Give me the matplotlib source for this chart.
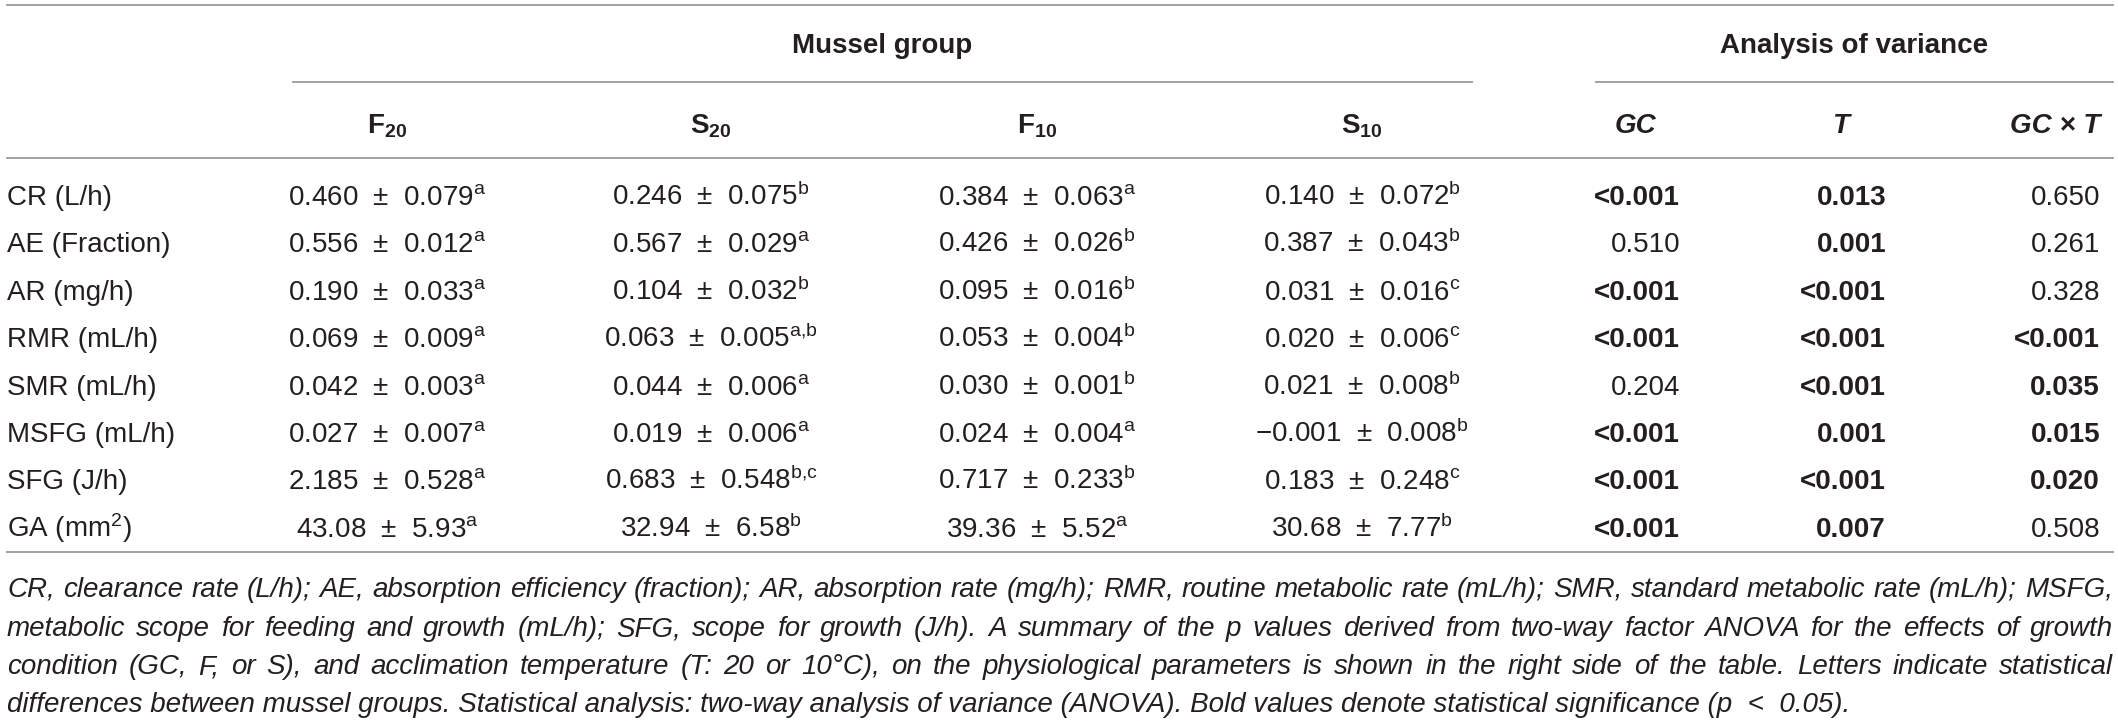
import matplotlib
matplotlib.use("Agg")
import matplotlib.pyplot as plt

plt.rcParams["font.family"] = ["Liberation Sans", "DejaVu Sans"]
plt.rcParams["mathtext.fontset"] = "custom"
plt.rcParams["mathtext.rm"] = "Liberation Sans"
plt.rcParams["mathtext.bf"] = "Liberation Sans:bold"
plt.rcParams["mathtext.it"] = "Liberation Sans:italic"

# table data
params = ["CR (L/h)", "AE (Fraction)", "AR (mg/h)", "RMR (mL/h)", "SMR (mL/h)",
          "MSFG (mL/h)", "SFG (J/h)", "GA (mm$^{2}$)"]
groups = ["F", "S", "F", "S"]
temps = ["20", "20", "10", "10"]

f20_mean = ["0.460", "0.556", "0.190", "0.069", "0.042", "0.027", "2.185", "43.08"]
f20_sd = ["0.079", "0.012", "0.033", "0.009", "0.003", "0.007", "0.528", "5.93"]
f20_sig = ["a", "a", "a", "a", "a", "a", "a", "a"]

s20_mean = ["0.246", "0.567", "0.104", "0.063", "0.044", "0.019", "0.683", "32.94"]
s20_sd = ["0.075", "0.029", "0.032", "0.005", "0.006", "0.006", "0.548", "6.58"]
s20_sig = ["b", "a", "b", "a,b", "a", "a", "b,c", "b"]

f10_mean = ["0.384", "0.426", "0.095", "0.053", "0.030", "0.024", "0.717", "39.36"]
f10_sd = ["0.063", "0.026", "0.016", "0.004", "0.001", "0.004", "0.233", "5.52"]
f10_sig = ["a", "b", "b", "b", "b", "a", "b", "a"]

s10_mean = ["0.140", "0.387", "0.031", "0.020", "0.021", "\u22120.001", "0.183", "30.68"]
s10_sd = ["0.072", "0.043", "0.016", "0.006", "0.008", "0.008", "0.248", "7.77"]
s10_sig = ["b", "b", "c", "c", "b", "b", "c", "b"]

p_gc = ["<0.001", "0.510", "<0.001", "<0.001", "0.204", "<0.001", "<0.001", "<0.001"]
p_t = ["0.013", "0.001", "<0.001", "<0.001", "<0.001", "0.001", "<0.001", "0.007"]
p_gct = ["0.650", "0.261", "0.328", "<0.001", "0.035", "0.015", "0.020", "0.508"]

caption_lines = [
    "CR, clearance rate (L/h); AE, absorption efficiency (fraction); AR, absorption rate (mg/h); "
    "RMR, routine metabolic rate (mL/h); SMR, standard metabolic rate (mL/h); MSFG,",
    "metabolic scope for feeding and growth (mL/h); SFG, scope for growth (J/h). A summary of the "
    "p values derived from two-way factor ANOVA for the effects of growth",
    "condition (GC, F, or S), and acclimation temperature (T: 20 or 10\u00b0C), on the physiological "
    "parameters is shown in the right side of the table. Letters indicate statistical",
    "differences between mussel groups. Statistical analysis: two-way analysis of variance (ANOVA). "
    "Bold values denote statistical significance (p  <  0.05).",
]

TXT = "#231f20"
LINE = "#9a9a9a"
FS = 20

fig = plt.figure(figsize=(21.18, 7.21), dpi=100)
ax = fig.add_axes([0, 0, 1, 1])
ax.set_xlim(0, 2118)
ax.set_ylim(721, 0)
ax.axis("off")

# rules
ax.plot([7, 2113], [5, 5], color=LINE, lw=1.3)
ax.plot([293, 1472], [82, 82], color=LINE, lw=1.3)
ax.plot([1596, 2113], [82, 82], color=LINE, lw=1.3)
ax.plot([7, 2113], [158, 158], color=LINE, lw=1.3)
ax.plot([7, 2113], [552, 552], color=LINE, lw=1.3)

# group headers
ax.text(882, 53, "Mussel group", ha="center", va="baseline", fontsize=FS,
        fontweight="bold", color=TXT)
ax.text(1854, 53, "Analysis of variance", ha="center", va="baseline", fontsize=FS,
        fontweight="bold", color=TXT)

col_x = [387, 711, 1037, 1362]
for g, t, x in zip(groups, temps, col_x):
    ax.text(x, 133, g + r"$_{\mathbf{" + t + "}}$", ha="center", va="baseline",
            fontsize=FS, fontweight="bold", color=TXT)

p_right = [1680, 1886, 2100]
p_head = ["GC", "T", "GC \u00d7 T"]
for h, x in zip(p_head, p_right):
    ax.text(x - 45, 133, h, ha="center", va="baseline", fontsize=FS,
            fontweight="bold", fontstyle="italic", color=TXT)

# body rows
row_y0 = 205
row_dy = 47.4
means = [f20_mean, s20_mean, f10_mean, s10_mean]
sds = [f20_sd, s20_sd, f10_sd, s10_sd]
sigs = [f20_sig, s20_sig, f10_sig, s10_sig]


def is_sig(p):
    return p.startswith("<") or float(p) < 0.05


for i, name in enumerate(params):
    y = row_y0 + i * row_dy
    ax.text(7, y, name, ha="left", va="baseline", fontsize=FS, color=TXT)
    for j, x in enumerate(col_x):
        sup = sigs[j][i].replace(",", "{,}")
        s = means[j][i] + "  \u00b1  " + sds[j][i] + r"$^{\mathrm{" + sup + "}}$"
        ax.text(x, y, s, ha="center", va="baseline", fontsize=FS, color=TXT)
    for plist, x in zip([p_gc, p_t, p_gct], p_right):
        p = plist[i]
        ax.text(x, y, p, ha="right", va="baseline", fontsize=FS, color=TXT,
                fontweight="bold" if is_sig(p) else "normal")

# caption, justified like the source
cap_y = [597, 636, 674, 712]
cap_fs = 20
left, right = 7, 2113
fig.canvas.draw()
renderer = fig.canvas.get_renderer()
inv = ax.transData.inverted()


def width_of(s):
    t = ax.text(0, 0, s, fontsize=cap_fs, fontstyle="italic")
    bb = t.get_window_extent(renderer)
    t.remove()
    (x0, _), (x1, _) = inv.transform([(bb.x0, bb.y0), (bb.x1, bb.y1)])
    return x1 - x0


for k, (line, y) in enumerate(zip(caption_lines, cap_y)):
    if k == len(caption_lines) - 1:
        ax.text(left, y, line, ha="left", va="baseline", fontsize=cap_fs,
                fontstyle="italic", color=TXT)
        continue
    words = line.split(" ")
    widths = [width_of(w) for w in words]
    gap = (right - left - sum(widths)) / (len(words) - 1)
    x = left
    for w, wd in zip(words, widths):
        ax.text(x, y, w, ha="left", va="baseline", fontsize=cap_fs,
                fontstyle="italic", color=TXT)
        x += wd + gap

fig.savefig("out.png", dpi=100)
